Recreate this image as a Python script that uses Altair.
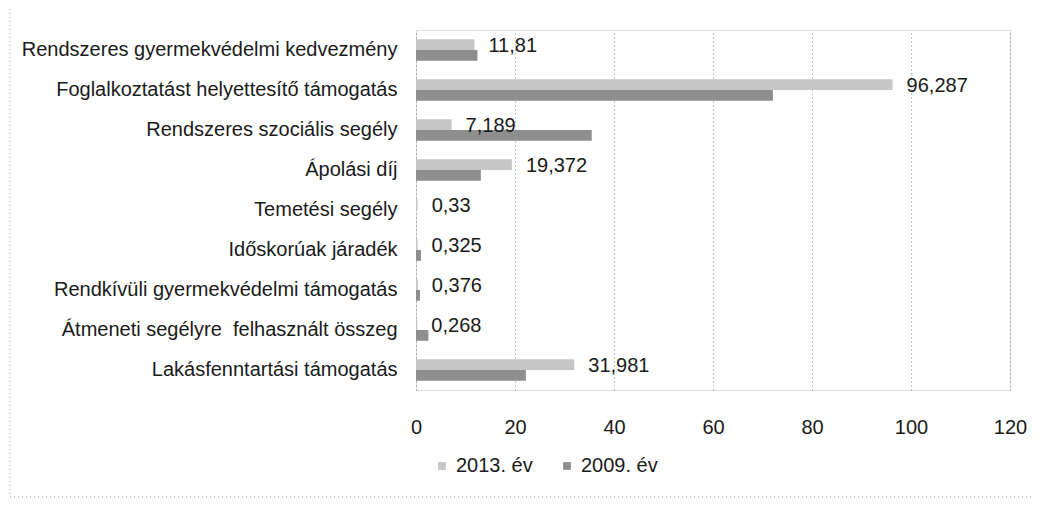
import altair as alt
import pandas as pd

categories = [
    "Rendszeres gyermekvédelmi kedvezmény",
    "Foglalkoztatást helyettesítő támogatás",
    "Rendszeres szociális segély",
    "Ápolási díj",
    "Temetési segély",
    "Időskorúak járadék",
    "Rendkívüli gyermekvédelmi támogatás",
    "Átmeneti segélyre\u00a0 felhasznált összeg",
    "Lakásfenntartási támogatás",
]
values_2013 = [11.81, 96.287, 7.189, 19.372, 0.33, 0.325, 0.376, 0.268, 31.981]
values_2009 = [12.4, 72.1, 35.5, 13.1, 0.0, 1.0, 0.8, 2.5, 22.2]
series = ["2013. év", "2009. év"]
x_ticks = [0, 20, 40, 60, 80, 100, 120]

FONT = "Liberation Sans Narrow, Arial Narrow, Liberation Sans, Arial"
FS = 20

rows = []
for c, a, b in zip(categories, values_2013, values_2009):
    rows.append({"cat": c, "series": series[0], "value": a})
    rows.append({"cat": c, "series": series[1], "value": b})
df = pd.DataFrame(rows)

lab = pd.DataFrame({
    "cat": categories,
    "value": values_2013,
    "label": [str(v).replace(".", ",") for v in values_2013],
})

yscale = alt.Scale(paddingInner=0.46, paddingOuter=0.23)
xscale = alt.Scale(domain=[0, 120], nice=False)

bars = alt.Chart(df).mark_bar().encode(
    x=alt.X("value:Q", scale=xscale,
            axis=alt.Axis(values=x_ticks, title=None, grid=True, gridDash=[1, 3],
                          gridColor="#8a8a8a", gridWidth=1, domain=False, ticks=False,
                          labelFontSize=FS, labelFont=FONT, labelColor="#1a1a1a",
                          labelPadding=27, labelFlush=False)),
    y=alt.Y("cat:N", sort=categories, scale=yscale,
            axis=alt.Axis(title=None, domain=False, ticks=False, labelFontSize=FS,
                          labelFont=FONT, labelColor="#1a1a1a", labelPadding=19,
                          labelLimit=500)),
    yOffset=alt.YOffset("series:N", sort=series),
    color=alt.Color("series:N", sort=series,
                    scale=alt.Scale(domain=series, range=["#c6c6c6", "#8e8e8e"]),
                    legend=alt.Legend(title=None, orient="none", legendX=16, legendY=426,
                                      direction="horizontal", symbolType="square",
                                      symbolSize=60, labelFontSize=FS, labelFont=FONT,
                                      labelColor="#1a1a1a", columnPadding=24,
                                      symbolStrokeWidth=0)),
)

text = alt.Chart(lab).mark_text(align="left", baseline="middle", dx=14, dy=-4,
                                fontSize=FS, font=FONT, color="#1a1a1a").encode(
    x=alt.X("value:Q", scale=xscale),
    y=alt.Y("cat:N", sort=categories, scale=yscale),
    text="label:N",
)

border = alt.Chart(pd.DataFrame({"k": [0]})).mark_rect(
    fill=None, stroke="#9a9a9a", strokeDash=[1, 3], strokeWidth=1
).encode(
    x=alt.value(-406), x2=alt.value(619),
    y=alt.value(-28), y2=alt.value(467),
)

chart = alt.layer(border, bars, text).properties(
    width=594, height=360,
    autosize=alt.AutoSizeParams(type="none"),
    padding={"left": 408, "top": 22, "right": 23, "bottom": 117},
).configure_view(stroke=None).configure(background="white")

chart.save("out.html", embed_options={"renderer": "svg", "actions": False})
